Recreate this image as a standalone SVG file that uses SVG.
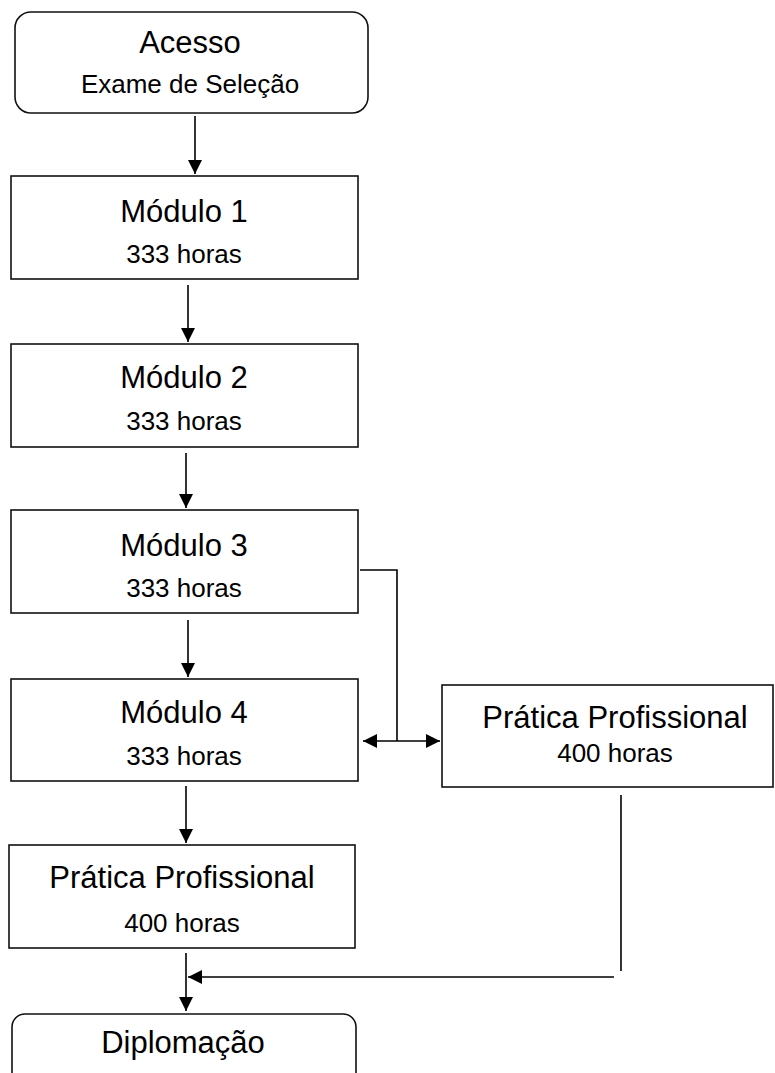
<svg xmlns="http://www.w3.org/2000/svg" width="775" height="1073" viewBox="0 0 775 1073">
<style>
.box{fill:#fff;stroke:#111;stroke-width:1.6}
.t{font-family:"Liberation Sans",Arial,sans-serif;font-size:31px;fill:#000;text-anchor:middle}
.s{font-family:"Liberation Sans",Arial,sans-serif;font-size:26px;fill:#000;text-anchor:middle}
.c{fill:none;stroke:#000;stroke-width:1.6}
</style>
<defs>
<marker id="ah" viewBox="0 0 14 14" refX="14" refY="7" markerWidth="14" markerHeight="14" markerUnits="userSpaceOnUse" orient="auto-start-reverse">
<path d="M0,0 L14,7 L0,14 z" fill="#000"/>
</marker>
</defs>
<g id="acesso">
<rect class="box" x="15" y="12" width="353" height="101" rx="16"/>
<text class="t" x="190" y="53">Acesso</text>
<text class="s" x="190" y="93">Exame de Seleção</text>
</g>
<g id="modulo1">
<rect class="box" x="11" y="176" width="347" height="103"/>
<text class="t" x="184" y="222">Módulo 1</text>
<text class="s" x="184" y="263">333 horas</text>
</g>
<g id="modulo2">
<rect class="box" x="11" y="344" width="347" height="103"/>
<text class="t" x="184" y="388">Módulo 2</text>
<text class="s" x="184" y="430">333 horas</text>
</g>
<g id="modulo3">
<rect class="box" x="11" y="510" width="347" height="103"/>
<text class="t" x="184" y="556">Módulo 3</text>
<text class="s" x="184" y="597">333 horas</text>
</g>
<g id="modulo4">
<rect class="box" x="11" y="679" width="347" height="102"/>
<text class="t" x="184" y="723">Módulo 4</text>
<text class="s" x="184" y="765">333 horas</text>
</g>
<g id="pratica-direita">
<rect class="box" x="442" y="685" width="331" height="102"/>
<text class="t" x="615" y="728">Prática Profissional</text>
<text class="s" x="615" y="762">400 horas</text>
</g>
<g id="pratica">
<rect class="box" x="9" y="845" width="346" height="103"/>
<text class="t" x="182" y="888">Prática Profissional</text>
<text class="s" x="182" y="932">400 horas</text>
</g>
<g id="diplomacao">
<rect class="box" x="12" y="1014" width="344" height="80" rx="13"/>
<text class="t" x="183" y="1053">Diplomação</text>
</g>
<g id="connectors">
<line class="c" x1="195" y1="116" x2="195" y2="174" marker-end="url(#ah)"/>
<line class="c" x1="188" y1="285" x2="188" y2="342" marker-end="url(#ah)"/>
<line class="c" x1="186" y1="453" x2="186" y2="508" marker-end="url(#ah)"/>
<line class="c" x1="188" y1="620" x2="188" y2="677" marker-end="url(#ah)"/>
<line class="c" x1="186" y1="786" x2="186" y2="843" marker-end="url(#ah)"/>
<line class="c" x1="186" y1="953" x2="186" y2="1011" marker-end="url(#ah)"/>
<polyline class="c" points="360,570 397,570 397,741"/>
<line class="c" x1="363" y1="741" x2="440" y2="741" marker-start="url(#ah)" marker-end="url(#ah)"/>
<line class="c" x1="621" y1="795" x2="621" y2="971"/>
<line class="c" x1="614" y1="977" x2="188" y2="977" marker-end="url(#ah)"/>
</g>
</svg>
